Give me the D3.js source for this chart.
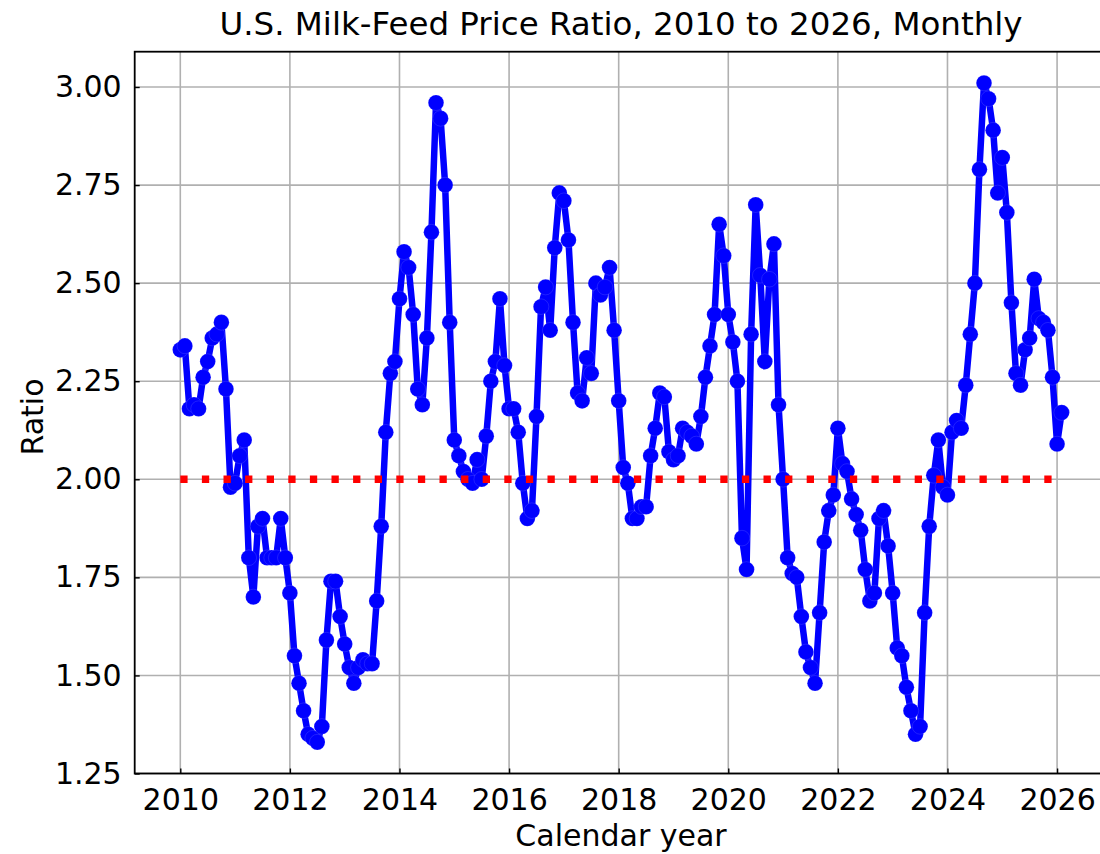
<!DOCTYPE html>
<html><head><meta charset="utf-8">
<script src="https://cdn.jsdelivr.net/npm/d3@7"></script>
<style>
body{margin:0;background:#fff}
svg{display:block}
text{font-family:"DejaVu Sans",sans-serif;fill:#000}
</style>
</head><body>
<svg id="chart" width="1100" height="854"></svg>
<script>
// ---- data (monthly milk-feed price ratio, Jan 2010 .. Feb 2026) ----
const firstYear = 2010;
const r2010 = [2.33,2.34,2.18,2.19,2.18,2.26,2.30,2.36,2.37,2.40,2.23,1.98];
const r2011 = [1.99,2.06,2.10,1.80,1.70,1.88,1.90,1.80,1.80,1.80,1.90,1.80];
const r2012 = [1.71,1.55,1.48,1.41,1.35,1.34,1.33,1.37,1.59,1.74,1.74,1.65];
const r2013 = [1.58,1.52,1.48,1.52,1.54,1.53,1.53,1.69,1.88,2.12,2.27,2.30];
const r2014 = [2.46,2.58,2.54,2.42,2.23,2.19,2.36,2.63,2.96,2.92,2.75,2.40];
const r2015 = [2.10,2.06,2.02,2.00,1.99,2.05,2.00,2.11,2.25,2.30,2.46,2.29];
const r2016 = [2.18,2.18,2.12,1.99,1.90,1.92,2.16,2.44,2.49,2.38,2.59,2.73];
const r2017 = [2.71,2.61,2.40,2.22,2.20,2.31,2.27,2.50,2.47,2.49,2.54,2.38];
const r2018 = [2.20,2.03,1.99,1.90,1.90,1.93,1.93,2.06,2.13,2.22,2.21,2.07];
const r2019 = [2.05,2.06,2.13,2.12,2.11,2.09,2.16,2.26,2.34,2.42,2.65,2.57];
const r2020 = [2.42,2.35,2.25,1.85,1.77,2.37,2.70,2.52,2.30,2.51,2.60,2.19];
const r2021 = [2.00,1.80,1.76,1.75,1.65,1.56,1.52,1.48,1.66,1.84,1.92,1.96];
const r2022 = [2.13,2.04,2.02,1.95,1.91,1.87,1.77,1.69,1.71,1.90,1.92,1.83];
const r2023 = [1.71,1.57,1.55,1.47,1.41,1.35,1.37,1.66,1.88,2.01,2.10,1.98];
const r2024 = [1.96,2.12,2.15,2.13,2.24,2.37,2.50,2.79,3.01,2.97,2.89,2.73];
const r2025 = [2.82,2.68,2.45,2.27,2.24,2.33,2.36,2.51,2.41,2.40,2.38,2.26];
const r2026 = [2.09,2.17];
const yearly = [r2010,r2011,r2012,r2013,r2014,r2015,r2016,r2017,r2018,r2019,r2020,r2021,r2022,r2023,r2024,r2025,r2026];

const xTicks = [2010,2012,2014,2016,2018,2020,2022,2024,2026];
const yTicks = [1.25,1.50,1.75,2.00,2.25,2.50,2.75,3.00];
const refLevel = 2.0;
const refStart = 2010, refEnd = 2026;
const titleText = "U.S. Milk-Feed Price Ratio, 2010 to 2026, Monthly";
const xLabelText = "Calendar year";
const yLabelText = "Ratio";

// month points: decimal year of each month
const points = [];
yearly.forEach((arr, yi) => arr.forEach((v, m) => points.push({t: firstYear + yi + m / 12, v})));

// ---- layout ----
const L = 134.7, R = 1111, T = 51.7, B = 773.5;
const svg = d3.select("#chart");
const x = d3.scaleLinear().domain([2009.168, 2026.984]).range([L, R]);
const y = d3.scaleLinear().domain([1.25, 3.09]).range([B, T]);

// grid
const grid = svg.append("g");
grid.selectAll("line.gx").data(xTicks).join("line")
  .attr("x1", d => x(d)).attr("x2", d => x(d)).attr("y1", T).attr("y2", B)
  .attr("stroke", "#b0b0b0").attr("stroke-width", 1.6);
grid.selectAll("line.gy").data(yTicks).join("line")
  .attr("x1", L).attr("x2", R).attr("y1", d => y(d)).attr("y2", d => y(d))
  .attr("stroke", "#b0b0b0").attr("stroke-width", 1.6);

// line + markers
const line = d3.line().x(d => x(d.t)).y(d => y(d.v));
svg.append("path").datum(points).attr("d", line)
  .attr("fill", "none").attr("stroke", "#0000ff").attr("stroke-width", 6.5)
  .attr("stroke-linejoin", "round");
svg.append("g").selectAll("circle").data(points).join("circle")
  .attr("cx", d => x(d.t)).attr("cy", d => y(d.v)).attr("r", 7.8)
  .attr("fill", "#0000ff").attr("stroke", "#ffffff").attr("stroke-opacity", 0.2).attr("stroke-width", 0.6);

// reference line
svg.append("line")
  .attr("x1", x(refStart)).attr("x2", x(refEnd)).attr("y1", y(refLevel)).attr("y2", y(refLevel))
  .attr("stroke", "#ff0000").attr("stroke-width", 7.5).attr("stroke-dasharray", "7.3 14.3");

// axes
const ax = svg.append("g").attr("transform", `translate(0,${B})`)
  .call(d3.axisBottom(x).tickValues(xTicks).tickFormat(d3.format("d")).tickSizeInner(-5).tickSizeOuter(0).tickPadding(15));
const ay = svg.append("g").attr("transform", `translate(${L},0)`)
  .call(d3.axisLeft(y).tickValues(yTicks).tickFormat(d3.format(".2f")).tickSizeInner(-5).tickSizeOuter(0).tickPadding(13));
[ax, ay].forEach(g => {
  g.select(".domain").remove();
  g.selectAll(".tick line").attr("stroke", "#000").attr("stroke-width", 1.4);
  g.selectAll(".tick text").attr("font-size", 30).attr("font-family", "DejaVu Sans").attr("fill", "#000");
});

// frame
svg.append("rect").attr("x", L).attr("y", T).attr("width", R - L).attr("height", B - T)
  .attr("fill", "none").attr("stroke", "#000").attr("stroke-width", 1.8);

// texts
svg.append("text").attr("x", 621).attr("y", 35).attr("text-anchor", "middle")
  .attr("font-size", 32.5).text(titleText);
svg.append("text").attr("x", 621).attr("y", 846).attr("text-anchor", "middle")
  .attr("font-size", 30).text(xLabelText);
svg.append("text").attr("transform", "translate(43,417) rotate(-90)").attr("text-anchor", "middle")
  .attr("font-size", 30).text(yLabelText);
</script>
</body></html>
